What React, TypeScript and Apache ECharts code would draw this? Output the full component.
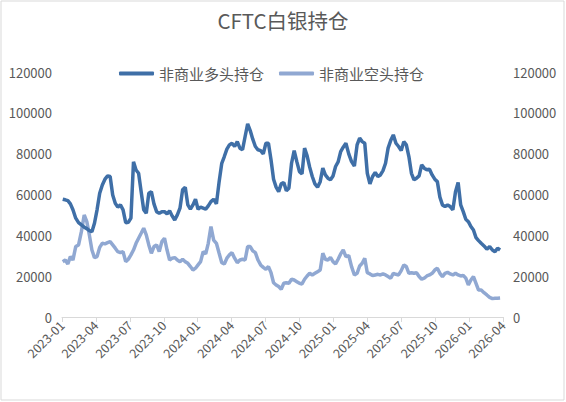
import React, { useEffect, useRef } from "react";
import * as echarts from "echarts";

const titleText = "CFTC白银持仓";
const seriesNames = ["非商业多头持仓", "非商业空头持仓"];
const firstReportDate = "2023-01-03";
const xTickLabels = [
  "2023-01", "2023-04", "2023-07", "2023-10",
  "2024-01", "2024-04", "2024-07", "2024-10",
  "2025-01", "2025-04", "2025-07", "2025-10",
  "2026-01", "2026-04",
];
const yTicks = [0, 20000, 40000, 60000, 80000, 100000, 120000];

const longPositions = [
  57700, 57400, 57000, 55400, 52500, 48400, 46200, 45100, 44000, 43300,
  42300, 41800, 45900, 52500, 60600, 64700, 67500, 69100, 68800, 59800,
  55700, 53800, 54900, 52500, 46200, 46400, 48400, 76000, 72000, 70400,
  61400, 52500, 50800, 60600, 61400, 55400, 51600, 50800, 51600, 51600,
  50500, 52000, 49500, 47500, 50000, 53300, 62300, 63600, 54900, 52800,
  54900, 57700, 52800, 53800, 53300, 52800, 54400, 56500, 57700, 55400,
  66300, 75300, 78600, 82200, 84300, 85100, 83500, 85900, 82700, 81900,
  88400, 94600, 91300, 87100, 83500, 81900, 81500, 79900, 85100, 85100,
  77000, 67500, 63600, 61400, 65200, 65900, 61900, 63100, 75300, 81500,
  76100, 71200, 70100, 82700, 78900, 73400, 68800, 65200, 63600, 66300,
  72900, 69600, 68000, 67200, 69100, 73700, 76000, 81000, 83200, 85100,
  79900, 76100, 74000, 84300, 87600, 85900, 85100, 70400, 65200, 68800,
  70800, 68800, 69600, 71700, 75300, 82700, 86400, 89200, 85100, 83500,
  81500, 85900, 84300, 78600, 70400, 67200, 68000, 69100, 74500, 72900,
  72100, 72400, 69600, 67500, 66300, 58700, 54900, 54100, 54900, 54100,
  52500, 61400, 65900, 54900, 51600, 47900, 46700, 44300, 42600, 38900,
  37400, 36100, 34800, 33200, 34500, 32800, 32000, 33700, 32800,
];

const shortPositions = [
  27100, 27900, 26000, 29600, 27900, 34500, 35300, 41800, 50000, 46700,
  40200, 32800, 29100, 29600, 34100, 36100, 35800, 36400, 36900, 35300,
  33700, 32000, 31500, 32000, 27100, 28300, 30400, 32800, 36100, 38600,
  41000, 43500, 40200, 35300, 31200, 34500, 35300, 32000, 36900, 38600,
  32800, 27900, 28800, 29100, 27900, 27100, 28300, 27100, 26300, 24700,
  23000, 23900, 25500, 27100, 32000, 30900, 36100, 44300, 37700, 36100,
  31200, 26600, 26000, 28800, 30400, 31500, 28800, 26600, 27900, 28300,
  27900, 34500, 34500, 32400, 31500, 27900, 25500, 24300, 23400, 24700,
  21700, 16800, 15700, 14900, 13600, 16500, 16800, 16500, 18500, 18100,
  17300, 16500, 16200, 18500, 20100, 21400, 20600, 21400, 22200, 23000,
  31200, 28300, 27900, 29200, 27100, 26000, 28300, 30900, 32800, 29600,
  30100, 24700, 20600, 21400, 25000, 26300, 28800, 21700, 21100, 20300,
  20600, 20900, 20600, 21100, 20600, 19800, 19000, 21400, 20900, 20600,
  22700, 25500, 24700, 21400, 21700, 21400, 21700, 19800, 18500, 19000,
  20100, 20600, 21400, 23000, 23900, 21400, 19800, 21400, 21900, 21100,
  20600, 21400, 20600, 20100, 20400, 19000, 15700, 18100, 19800, 16500,
  13200, 13200, 11900, 10800, 9600, 9000, 9200, 9200, 9300,
];

// weekly report dates -> months since 2023-01 (axis unit)
function monthsSinceStart(ts: number): number {
  const d = new Date(ts);
  const y = d.getUTCFullYear();
  const m = d.getUTCMonth();
  const days = new Date(Date.UTC(y, m + 1, 0)).getUTCDate();
  return (y - 2023) * 12 + m + (d.getUTCDate() - 1) / days;
}

function buildSeries(values: number[]): [number, number][] {
  const start = Date.parse(firstReportDate + "T00:00:00Z");
  return values.map((v, i) => [monthsSinceStart(start + i * 7 * 86400000), v]);
}

const FONT = "'Noto Sans CJK SC', 'Noto Sans', sans-serif";
const TEXT = "#595959";

export default function App() {
  const ref = useRef<HTMLDivElement>(null);
  useEffect(() => {
    if (!ref.current) return;
    const chart = echarts.init(ref.current, undefined, { renderer: "svg" });
    const yAxisBase = {
      type: "value" as const,
      min: yTicks[0],
      max: yTicks[yTicks.length - 1],
      interval: yTicks[1] - yTicks[0],
      axisLine: { show: false },
      axisTick: { show: false },
      splitLine: { show: false },
      axisLabel: {
        color: TEXT,
        fontSize: 13,
        fontFamily: FONT,
        margin: 10,
        formatter: (v: number) => String(v),
      },
    };
    chart.setOption({
      animation: false,
      backgroundColor: "#ffffff",
      textStyle: { fontFamily: FONT },
      title: {
        text: titleText,
        left: "center",
        top: 10,
        padding: 0,
        textStyle: { color: TEXT, fontSize: 20.5, fontWeight: "normal", fontFamily: FONT },
      },
      legend: {
        data: seriesNames,
        left: 119,
        top: 66,
        padding: 0,
        itemWidth: 35,
        itemHeight: 4,
        itemGap: 15,
        icon: "roundRect",
        textStyle: { color: TEXT, fontSize: 15, fontFamily: FONT },
      },
      graphic: [
        {
          type: "rect",
          shape: { x: 1, y: 1, width: 563, height: 399 },
          style: { fill: "none", stroke: "#d9d9d9", lineWidth: 1 },
          silent: true,
        },
      ],
      grid: { left: 62, right: 63, top: 72, bottom: 85, containLabel: false },
      xAxis: {
        type: "value",
        min: 0,
        max: (xTickLabels.length - 1) * 3,
        interval: 3,
        axisLine: { show: true, lineStyle: { color: "#d9d9d9", width: 1 } },
        axisTick: { show: true, length: 5, lineStyle: { color: "#d9d9d9" } },
        splitLine: { show: false },
        axisLabel: {
          rotate: 45,
          color: TEXT,
          fontSize: 12.5,
          fontFamily: FONT,
          margin: 6,
          formatter: (v: number) => xTickLabels[Math.round(v / 3)] ?? "",
        },
      },
      yAxis: [
        { ...yAxisBase, position: "left" },
        { ...yAxisBase, position: "right" },
      ],
      series: [
        {
          name: seriesNames[0],
          type: "line",
          data: buildSeries(longPositions),
          showSymbol: false,
          lineStyle: { color: "#3f6fa7", width: 3.5 },
          itemStyle: { color: "#3f6fa7" },
          z: 3,
        },
        {
          name: seriesNames[1],
          type: "line",
          data: buildSeries(shortPositions),
          showSymbol: false,
          lineStyle: { color: "#90a8d2", width: 3.5 },
          itemStyle: { color: "#90a8d2" },
          z: 2,
        },
      ],
    });
    return () => chart.dispose();
  }, []);
  return (
    <div
      ref={ref}
      style={{ position: "absolute", left: 0, top: 0, width: 566, height: 402 }}
    />
  );
}
